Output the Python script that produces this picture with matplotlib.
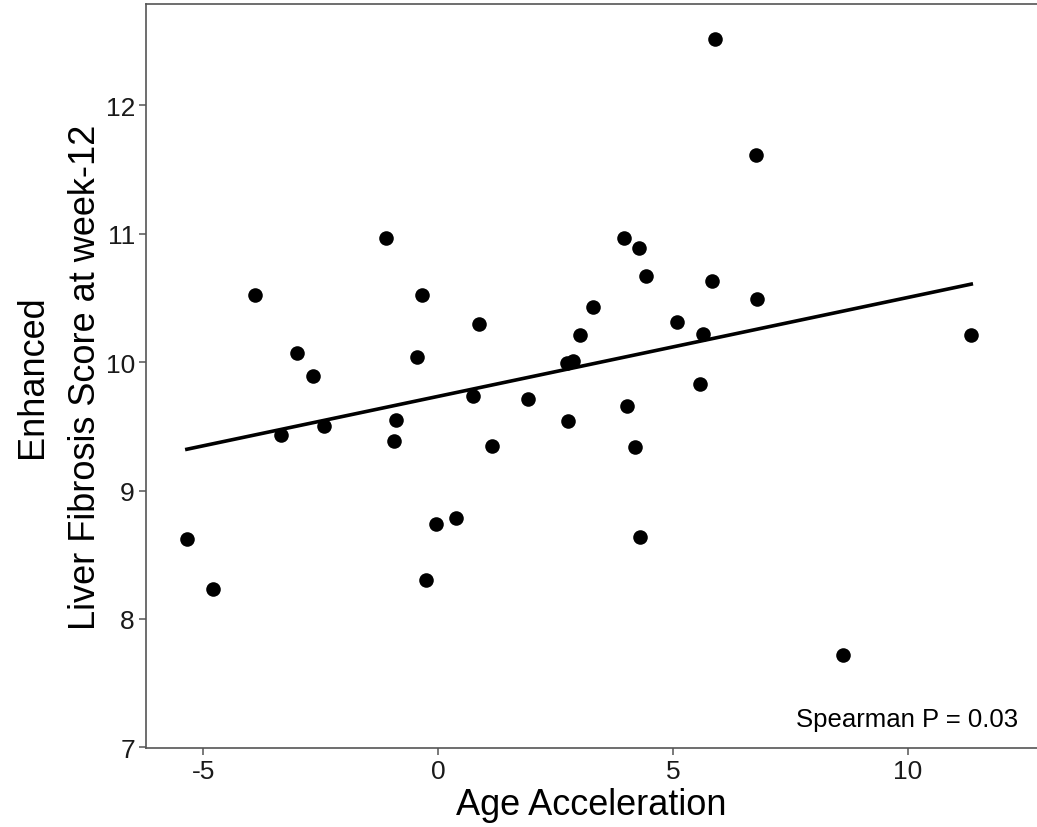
"""Age acceleration vs enhanced liver fibrosis score at week 12."""

import matplotlib
matplotlib.use("Agg")
import matplotlib.pyplot as plt
import numpy as np

plt.rcParams["font.family"] = ["Liberation Sans", "DejaVu Sans"]

# values
age_accel = [
    -3.91, -1.11, -0.34, -3.00, -2.66, 0.87, -0.46, 3.30, 3.03, 2.75,
    2.88, 0.74, 1.92, -0.89, 2.77, -3.34, -2.43, -0.95, 1.14, -5.35,
    -4.80, -0.05, 0.39, -0.26, 5.90, 6.76, 3.96, 4.28, 4.43, 5.83,
    6.79, 5.09, 5.63, 11.35, 5.58, 4.02, 4.20, 4.29, 8.62,
]
elf_score = [
    10.52, 10.97, 10.52, 10.07, 9.89, 10.30, 10.04, 10.43, 10.21, 9.99,
    10.01, 9.74, 9.71, 9.55, 9.54, 9.43, 9.50, 9.39, 9.35, 8.62,
    8.23, 8.74, 8.79, 8.30, 12.52, 11.61, 10.97, 10.89, 10.67, 10.63,
    10.49, 10.31, 10.22, 10.21, 9.83, 9.66, 9.34, 8.64, 7.72,
]
x_ticks = [-5, 0, 5, 10]
x_tick_labels = ["-5", "0", "5", "10"]
y_ticks = [7, 8, 9, 10, 11, 12]
p_label = "Spearman P = 0.03"

fig = plt.figure(figsize=(10.37, 8.28), dpi=100)
ax = fig.add_axes([0.1408, 0.0954, 0.8592, 0.8986])

x = np.array(age_accel)
y = np.array(elf_score)

ax.scatter(x, y, s=110, color="black", zorder=3, linewidths=0)

# linear fit, like geom_smooth(method = "lm")
slope, intercept = np.polyfit(x, y, 1)
xs = np.array([x.min(), x.max()])
ax.plot(xs, slope * xs + intercept, color="black", linewidth=2.6, zorder=2)

ax.set_xlim(-6.22, 12.75)
ax.set_ylim(6.995, 12.79)
ax.set_xticks(x_ticks, x_tick_labels)
ax.set_yticks(y_ticks)

for side in ["left", "bottom", "top"]:
    ax.spines[side].set_color("#555555")
    ax.spines[side].set_linewidth(1.2)
ax.spines["right"].set_visible(False)

ax.tick_params(axis="both", direction="out", length=5, width=1.1,
               color="#555555", labelsize=19, labelcolor="#1a1a1a", pad=3)

ax.set_xlabel("Age Acceleration", fontsize=26, labelpad=3)
ax.set_ylabel("Enhanced\nLiver Fibrosis Score at week-12", fontsize=26,
              labelpad=2, linespacing=1.65)

ax.text(0.9787, 0.0296, p_label, transform=ax.transAxes, fontsize=18.5,
        ha="right", va="baseline")

plt.savefig("out.png", dpi=100)
plt.close()
